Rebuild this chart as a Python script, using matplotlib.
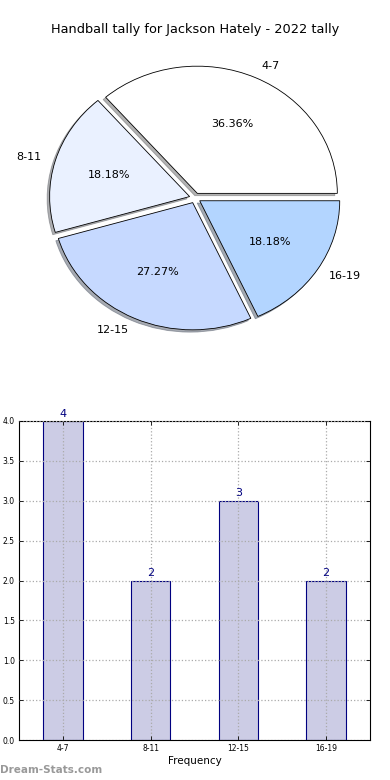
import numpy as np
import matplotlib
matplotlib.use('Agg')
import matplotlib.pyplot as plt

plt.rc('font', **{'family': 'sans-serif', 'sans-serif': ['DejaVu Sans']})

# data
groups = ['4-7', '8-11', '12-15', '16-19']
counts = [4, 2, 3, 2]
pie_colors = ['#ffffff', '#eaf1ff', '#c6d9ff', '#b3d5ff']
title = 'Handball tally for Jackson Hately - 2022 tally'

fig = plt.figure(figsize=(3.9, 7.8), dpi=100)

# pie chart
ax1 = fig.add_axes([20/390, 1 - 357/780, 350/390, 318/780])
wedges, texts, autotexts = ax1.pie(counts, labels=groups, colors=pie_colors,
                                   autopct='%.2f%%', explode=[0.04]*4,
                                   shadow={'ox': -0.013, 'oy': -0.013, 'shade': 0.6},
                                   startangle=0, counterclock=True,
                                   wedgeprops={'edgecolor': 'black', 'linewidth': 0.6},
                                   textprops={'fontsize': 8})
ax1.set_aspect('auto')
ax1.set_xlim(-1.25, 1.25)
ax1.set_ylim(-1.25, 1.25)
fig.text(0.5, 1 - 30/780, title, ha='center', va='center', fontsize=9.3)

# bar chart
ax2 = fig.add_axes([19/390, 1 - 740/780, 351/390, 319/780])
x = np.arange(len(groups))
ax2.bar(x, counts, width=0.45, color='#ccccE5', edgecolor='#000080', linewidth=0.8, zorder=1)
for xi, c in zip(x, counts):
    ax2.text(xi, c + 0.03, str(c), ha='center', va='bottom', color='#000080', fontsize=8)
ax2.set_xlim(-0.5, 3.5)
ax2.set_ylim(0, 4)
ax2.set_xticks(x)
ax2.set_xticklabels(groups)
ax2.set_yticks(np.arange(0, 4.01, 0.5))
ax2.set_yticklabels(['%.1f' % v for v in np.arange(0, 4.01, 0.5)])
ax2.tick_params(labelsize=5.5, direction='in', top=True, right=True, length=3, width=0.6, pad=3)
ax2.grid(True, linestyle=':', color='#aaaaaa', linewidth=0.9, zorder=3)
ax2.set_axisbelow(False)
ax2.set_xlabel('Frequency', fontsize=7.5, labelpad=2)
for s in ax2.spines.values():
    s.set_linewidth(0.8)

fig.text(0, 1 - 770/780, 'Dream-Stats.com', ha='left', va='center',
         fontsize=7.5, color='#999999', fontweight='bold')

plt.savefig('out.png', dpi=100)
